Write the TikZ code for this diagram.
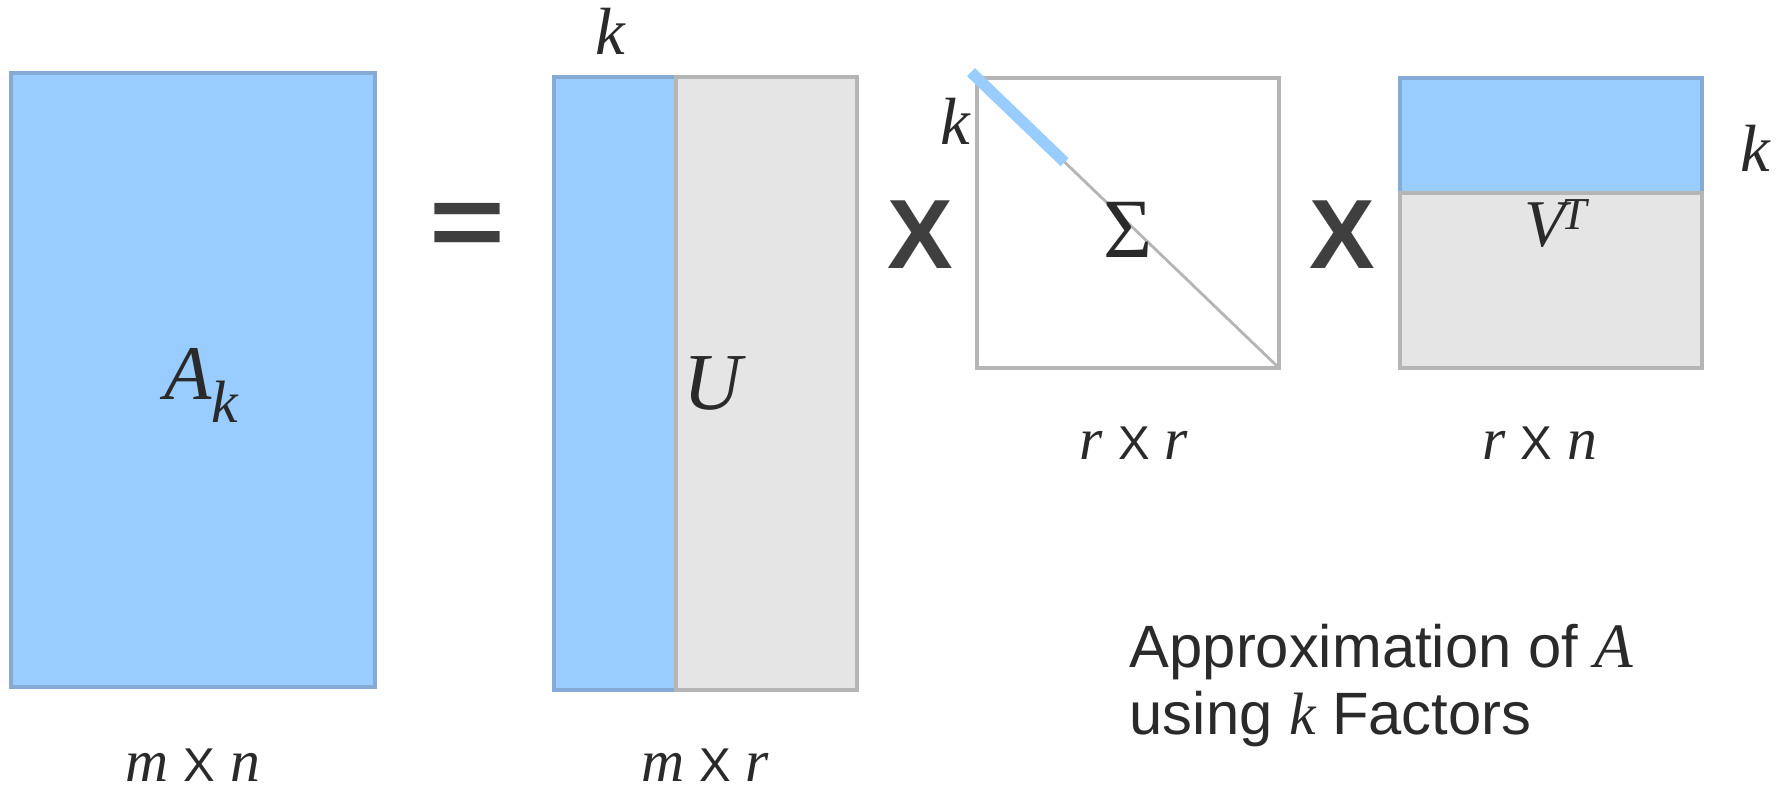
\documentclass[tikz,border=0pt]{standalone}
\usepackage{fontspec}
\setmainfont{Liberation Serif}
\newfontfamily\arialfont{Liberation Sans}
\usetikzlibrary{positioning,calc}
\definecolor{BlueFill}{HTML}{99CCFF}
\definecolor{BlueEdge}{HTML}{86AAD6}
\definecolor{GreyFill}{HTML}{E5E5E5}
\definecolor{GreyEdge}{HTML}{B5B5B5}
\definecolor{Ink}{HTML}{2A2A2A}
\newcommand{\timesX}{{\upshape\arialfont\fontsize{13.5}{13.5}\selectfont X}}
\tikzset{
  bluemat/.style={draw=BlueEdge,fill=BlueFill,line width=0.9pt,outer sep=0pt,inner sep=0pt},
  greymat/.style={draw=GreyEdge,fill=GreyFill,line width=0.9pt,outer sep=0pt,inner sep=0pt},
  whitemat/.style={draw=GreyEdge,fill=white,line width=0.9pt,outer sep=0pt,inner sep=0pt},
  var/.style={inner sep=0pt,anchor=base,text=Ink,font=\fontsize{19}{19}\selectfont\itshape},
  dim/.style={inner sep=0pt,anchor=base,text=Ink,font=\fontsize{17}{17}\selectfont\itshape},
  op/.style={inner sep=0pt,text=Ink!90,font=\arialfont\bfseries\fontsize{28}{28}\selectfont},
  note/.style={inner sep=0pt,anchor=north west,align=left,text=Ink,font=\arialfont\fontsize{17}{19}\selectfont},
  diag/.style={draw=GreyEdge,line width=0.8pt},
  kdiag/.style={draw=BlueFill,line width=3.2pt}
}
\begin{document}
\begin{tikzpicture}
  \useasboundingbox (0,0) rectangle (17.8,7.92);
  \node[bluemat,minimum width=3.64cm,minimum height=6.14cm] (A) at (1.93,4.12) {};
  \node[bluemat,minimum width=1.22cm,minimum height=6.13cm] (Ub) at (6.15,4.085) {};
  \node[greymat,minimum width=1.81cm,minimum height=6.13cm,right=0pt of Ub] (Ug) {};
  \node[whitemat,minimum width=3.02cm,minimum height=2.90cm] (S) at (11.28,5.69) {};
  \node[bluemat,minimum width=3.02cm,minimum height=1.15cm] (Vb) at (15.51,6.565) {};
  \node[greymat,minimum width=3.02cm,minimum height=1.75cm,below=0pt of Vb] (Vg) {};
  \draw[diag] (S.north west) -- (S.south east);
  \draw[kdiag] ($(S.north west)!-0.02!(S.south east)$) -- ($(S.north west)!0.29!(S.south east)$);

  \node[op,font=\arialfont\bfseries\fontsize{37}{37}\selectfont,yscale=0.8,transform shape] (eq) at (4.67,5.62) {=};
  \node[op] (x1) at (9.20,5.57) {X};
  \node[op] (x2) at (13.42,5.57) {X};

  \node[var,font=\fontsize{22}{22}\selectfont\itshape] (Ak) at (2.01,3.92) {A\raisebox{-0.23cm}{\fontsize{17}{17}\selectfont k}};
  \node[var,font=\fontsize{23}{23}\selectfont\itshape] (U) at (7.13,3.82) {U};
  \node[var,font=\fontsize{24}{24}\selectfont] (Sig) at (11.28,5.34) {Σ};
  \node[var] (VT) at (15.56,5.45) {V\kern-1pt\raisebox{0.17cm}{\fontsize{13}{13}\selectfont T}};
  \node[var] (kU) at (6.10,7.37) {k};
  \node[var] (kS) at (9.55,6.47) {k};
  \node[var] (kV) at (17.55,6.20) {k};

  \node[dim] (dA) at (1.93,0.10) {m \timesX{} n};
  \node[dim] (dU) at (7.05,0.10) {m \timesX{} r};
  \node[dim] (dS) at (11.34,3.32) {r \timesX{} r};
  \node[dim] (dV) at (15.40,3.32) {r \timesX{} n};

  \node[note] (cap) at (11.29,1.68) {Approximation of {\rmfamily\itshape\fontsize{18}{18}\selectfont A}\\using {\rmfamily\itshape k} Factors};
\end{tikzpicture}
\end{document}
